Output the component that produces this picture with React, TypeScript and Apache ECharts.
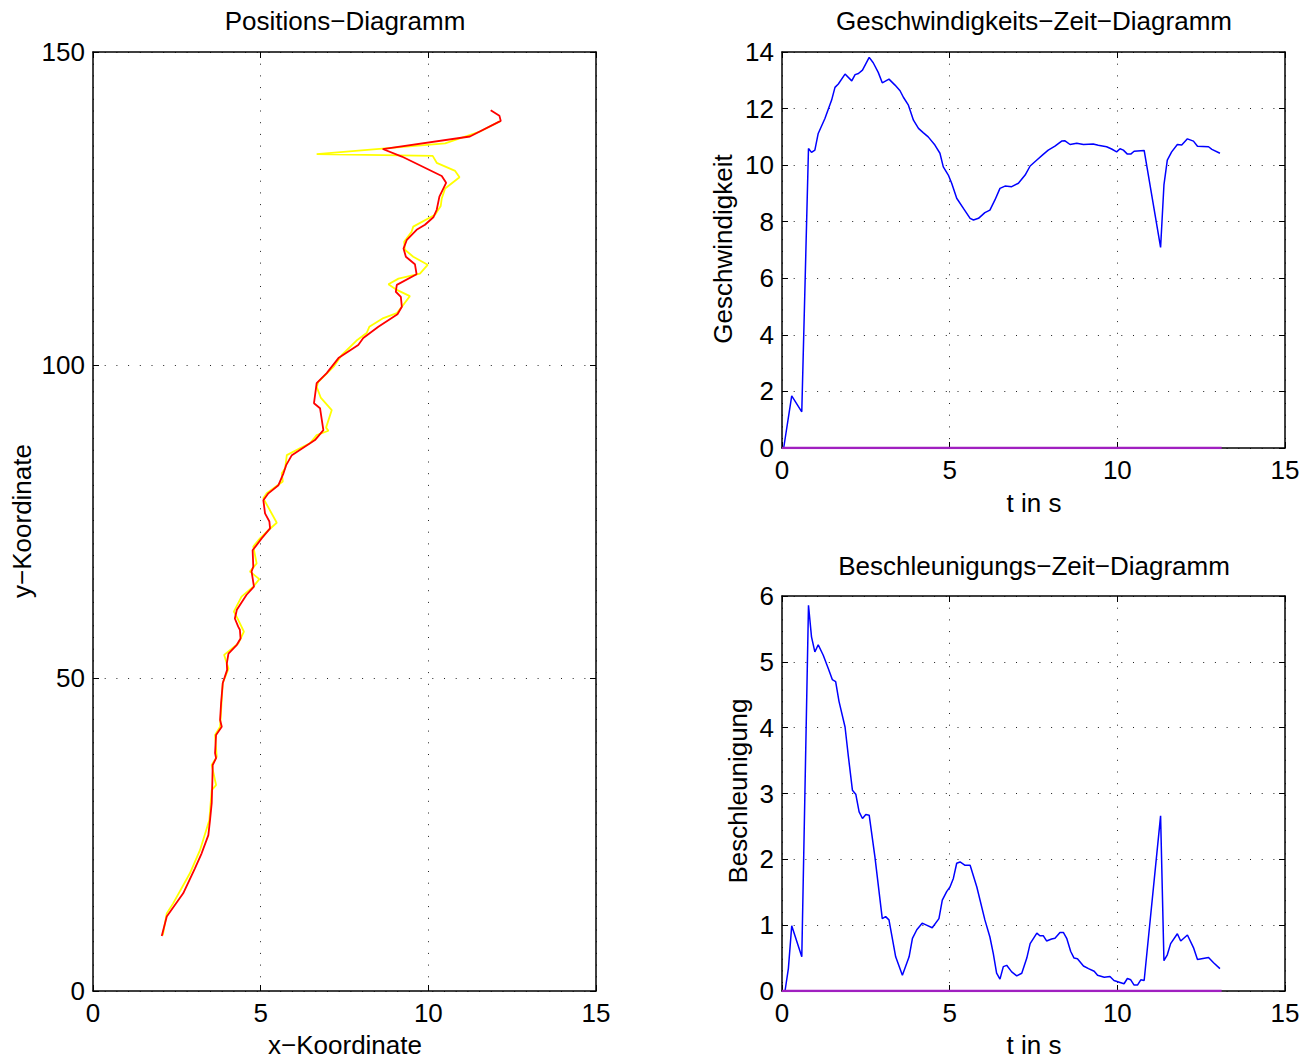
import React, { useEffect, useRef } from "react";
import * as echarts from "echarts";

// ---- Position diagram (x, y) ----
const redX = [2.05, 2.2, 2.69, 3.04, 3.24, 3.44, 3.49, 3.54, 3.56, 3.57, 3.67, 3.64, 3.67, 3.84, 3.79, 3.82, 3.87, 4.0, 3.99, 4.04, 4.29, 4.4, 4.38, 4.33, 4.23, 4.29, 4.58, 4.8, 4.73, 4.78, 4.76, 5.03, 5.28, 5.26, 5.13, 5.08, 5.23, 5.53, 5.68, 5.76, 5.93, 6.62, 6.87, 6.77, 6.59, 6.67, 6.97, 7.32, 7.91, 8.06, 8.51, 9.08, 9.21, 9.18, 9.03, 9.06, 9.65, 9.6, 9.33, 9.26, 9.36, 9.65, 9.9, 10.15, 10.25, 10.33, 10.53, 10.4, 9.21, 8.64, 11.24, 12.16, 12.12, 11.86];
const redY = [8.8, 11.9, 15.6, 19.6, 22, 24.9, 27.3, 30, 33.7, 36.1, 37.2, 38, 40.9, 42.2, 43.3, 46, 49.2, 51.3, 52.3, 53.9, 55.3, 56.3, 57.7, 58.2, 59.5, 60.9, 63.3, 64.6, 67, 67.8, 70.4, 72.3, 73.9, 75, 76.3, 78.4, 79.5, 80.8, 82.7, 84, 85.6, 88, 89.6, 93.1, 93.9, 97.1, 98.7, 101.1, 103.2, 104.3, 106.1, 108.1, 109.3, 110.9, 111.7, 112.8, 114.5, 116.1, 117.3, 118.6, 120, 121.6, 122.4, 123.6, 124.8, 126.9, 129.1, 130.2, 133.3, 134.5, 136.5, 139, 139.8, 140.7];
const yellowX = [2.08, 2.2, 2.39, 2.89, 3.19, 3.47, 3.54, 3.67, 3.54, 3.69, 3.64, 3.79, 3.87, 4.04, 3.91, 4.33, 4.5, 4.33, 4.2, 4.43, 4.78, 4.96, 4.68, 4.88, 4.78, 4.98, 5.23, 5.48, 5.08, 5.18, 5.66, 5.63, 5.73, 5.78, 6.17, 6.47, 6.67, 7.02, 6.95, 7.12, 6.79, 6.67, 6.72, 7.17, 7.42, 7.86, 8.16, 8.24, 8.66, 9.06, 9.21, 9.45, 9.06, 8.81, 9.11, 9.75, 9.98, 9.55, 9.3, 9.28, 9.5, 9.55, 10.2, 10.37, 10.4, 10.5, 10.93, 10.8, 10.25, 10.13, 6.67, 10.5, 11.54, 12.16];
const yellowY = [8.9, 12.4, 14, 18.8, 22.5, 27.3, 32.1, 32.9, 36.1, 37.4, 40.9, 42.2, 49.2, 51.5, 53.7, 55.5, 57.4, 59.3, 60.6, 63, 64.6, 65.8, 67, 68.3, 71, 72.3, 73.6, 74.8, 78.7, 79.5, 81.4, 82.7, 83.5, 85.6, 86.7, 87.5, 88.8, 89.5, 90, 92.8, 94.8, 96.5, 97.3, 99.7, 101.6, 103.9, 105.1, 106.1, 107.5, 108.3, 109.3, 111, 112, 112.9, 113.8, 114.6, 116, 117.3, 118.4, 119.7, 121.3, 122.1, 124, 125.4, 126.6, 128.2, 130, 131, 132.3, 133.4, 133.7, 135.4, 137.3, 139];

// ---- Velocity over time ----
const velT = [0.05, 0.29, 0.59, 0.79, 0.88, 0.98, 1.08, 1.28, 1.48, 1.58, 1.68, 1.88, 2.08, 2.18, 2.28, 2.4, 2.6, 2.72, 2.87, 2.99, 3.19, 3.37, 3.52, 3.62, 3.77, 3.92, 4.07, 4.21, 4.36, 4.56, 4.71, 4.81, 4.96, 5.06, 5.21, 5.41, 5.61, 5.71, 5.86, 6.05, 6.2, 6.35, 6.5, 6.65, 6.85, 7.05, 7.25, 7.4, 7.6, 7.79, 7.94, 8.14, 8.34, 8.44, 8.59, 8.79, 8.99, 9.28, 9.43, 9.68, 9.83, 9.98, 10.08, 10.18, 10.3, 10.4, 10.5, 10.8, 11.29, 11.39, 11.49, 11.62, 11.79, 11.92, 12.09, 12.27, 12.39, 12.72, 12.82, 13.06];
const velV = [0, 1.84, 1.28, 10.59, 10.45, 10.53, 11.12, 11.65, 12.3, 12.75, 12.87, 13.22, 12.98, 13.2, 13.24, 13.36, 13.81, 13.62, 13.28, 12.91, 13.04, 12.83, 12.63, 12.4, 12.12, 11.59, 11.3, 11.15, 11.0, 10.71, 10.42, 9.94, 9.65, 9.36, 8.83, 8.47, 8.12, 8.06, 8.12, 8.32, 8.41, 8.77, 9.18, 9.26, 9.24, 9.36, 9.65, 9.97, 10.18, 10.38, 10.53, 10.67, 10.85, 10.86, 10.73, 10.77, 10.73, 10.75, 10.7, 10.65, 10.57, 10.47, 10.58, 10.53, 10.39, 10.39, 10.49, 10.52, 7.09, 9.3, 10.18, 10.47, 10.73, 10.71, 10.93, 10.85, 10.67, 10.65, 10.56, 10.42];

// ---- Acceleration over time ----
const accT = [0.09, 0.19, 0.29, 0.59, 0.79, 0.88, 0.98, 1.08, 1.23, 1.38, 1.5, 1.6, 1.7, 1.88, 1.98, 2.1, 2.2, 2.3, 2.4, 2.5, 2.6, 2.77, 2.99, 3.09, 3.19, 3.39, 3.59, 3.79, 3.89, 4.02, 4.18, 4.31, 4.48, 4.68, 4.78, 4.91, 5.01, 5.11, 5.21, 5.31, 5.46, 5.61, 5.81, 6.05, 6.2, 6.3, 6.4, 6.5, 6.6, 6.7, 6.85, 7.0, 7.15, 7.3, 7.4, 7.6, 7.69, 7.79, 7.89, 8.04, 8.14, 8.29, 8.39, 8.49, 8.61, 8.71, 8.81, 8.99, 9.14, 9.31, 9.41, 9.61, 9.78, 9.9, 10.08, 10.2, 10.3, 10.4, 10.5, 10.6, 10.7, 10.8, 11.29, 11.39, 11.49, 11.59, 11.79, 11.89, 12.09, 12.27, 12.39, 12.72, 12.87, 13.06];
const accA = [0, 0.34, 0.99, 0.52, 5.86, 5.38, 5.15, 5.26, 5.1, 4.9, 4.73, 4.7, 4.4, 4.01, 3.56, 3.05, 2.99, 2.72, 2.62, 2.68, 2.67, 2.04, 1.1, 1.13, 1.08, 0.52, 0.24, 0.52, 0.8, 0.93, 1.03, 1.0, 0.96, 1.1, 1.38, 1.51, 1.58, 1.71, 1.94, 1.96, 1.91, 1.91, 1.58, 1.08, 0.82, 0.57, 0.27, 0.18, 0.37, 0.39, 0.29, 0.23, 0.27, 0.5, 0.72, 0.88, 0.84, 0.84, 0.76, 0.79, 0.8, 0.89, 0.89, 0.8, 0.6, 0.5, 0.49, 0.38, 0.34, 0.3, 0.24, 0.21, 0.22, 0.16, 0.13, 0.11, 0.19, 0.17, 0.09, 0.09, 0.17, 0.16, 2.66, 0.46, 0.55, 0.72, 0.87, 0.76, 0.85, 0.66, 0.48, 0.51, 0.43, 0.34];

// zero reference line (time span)
const zeroT = [0, 13.11];
const zeroV = [0, 0];

// axis ranges / ticks
const posXRange = [0, 15, 5];
const posYRange = [0, 150, 50];
const tRange = [0, 15, 5];
const velRange = [0, 14, 2];
const accRange = [0, 6, 1];

const FONT = "'Liberation Sans', Arial, Helvetica, sans-serif";
const FS = 26;

function zip(a: number[], b: number[]) {
  return a.map((v, i) => [v, b[i]]);
}

function axisPair(kind: "x" | "y", gridIndex: number, r: number[]) {
  const common = {
    type: "value",
    gridIndex,
    min: r[0],
    max: r[1],
    interval: r[2],
    axisLine: { show: true, onZero: false, lineStyle: { color: "#000", width: 1.5 } },
    axisTick: { show: true, inside: true, length: 6, lineStyle: { color: "#000", width: 1 } },
  };
  const main = {
    ...common,
    position: kind === "x" ? "bottom" : "left",
    axisLabel: {
      show: true,
      color: "#000",
      fontSize: FS,
      fontFamily: FONT,
      margin: kind === "x" ? 9 : 8,
    },
    splitLine: {
      show: true,
      lineStyle: { color: "#222", width: 1, type: [1, 10.7] },
    },
  };
  const opp = {
    ...common,
    position: kind === "x" ? "top" : "right",
    axisLabel: { show: false },
    splitLine: { show: false },
  };
  return [main, opp];
}

function txt(text: string, x: number, y: number, rotate = false) {
  return {
    type: "text",
    x,
    y,
    rotation: rotate ? Math.PI / 2 : 0,
    style: {
      text,
      fill: "#000",
      fontSize: FS,
      fontFamily: FONT,
      textAlign: "center",
      textVerticalAlign: "middle",
    },
  };
}

export default function App() {
  const ref = useRef<HTMLDivElement>(null);
  useEffect(() => {
    document.body.style.margin = "0";
    if (!ref.current) return;
    const chart = echarts.init(ref.current, undefined, { renderer: "svg" });
    const xAxes = [
      ...axisPair("x", 0, posXRange),
      ...axisPair("x", 1, tRange),
      ...axisPair("x", 2, tRange),
    ];
    const yAxes = [
      ...axisPair("y", 0, posYRange),
      ...axisPair("y", 1, velRange),
      ...axisPair("y", 2, accRange),
    ];
    const line = (name: string, xi: number, yi: number, data: number[][], color: string, width: number) => ({
      name,
      type: "line",
      xAxisIndex: xi,
      yAxisIndex: yi,
      data,
      showSymbol: false,
      symbol: "none",
      lineStyle: { color, width },
      z: 3,
    });
    chart.setOption({
      animation: false,
      backgroundColor: "#fff",
      grid: [
        { left: 93, top: 52, width: 503, height: 939 },
        { left: 782, top: 52, width: 503, height: 396 },
        { left: 782, top: 596, width: 503, height: 395 },
      ],
      xAxis: xAxes,
      yAxis: yAxes,
      series: [
        line("gelb", 0, 0, zip(yellowX, yellowY), "#ffff00", 1.8),
        line("rot", 0, 0, zip(redX, redY), "#ff0000", 1.8),
        line("v", 2, 2, zip(velT, velV), "#0000ff", 1.5),
        line("v0", 2, 2, zip(zeroT, zeroV), "#a020c0", 2.5),
        line("a", 4, 4, zip(accT, accA), "#0000ff", 1.5),
        line("a0", 4, 4, zip(zeroT, zeroV), "#a020c0", 2.5),
      ],
      graphic: [
        txt("Positions\u2212Diagramm", 345, 21),
        txt("x\u2212Koordinate", 345, 1045),
        txt("y\u2212Koordinate", 22, 521, true),
        txt("Geschwindigkeits\u2212Zeit\u2212Diagramm", 1034, 21),
        txt("t in s", 1034, 503),
        txt("Geschwindigkeit", 723, 249, true),
        txt("Beschleunigungs\u2212Zeit\u2212Diagramm", 1034, 566),
        txt("t in s", 1034, 1045),
        txt("Beschleunigung", 738, 791, true),
      ],
    });
    return () => chart.dispose();
  }, []);
  return <div ref={ref} style={{ width: 1316, height: 1063 }} />;
}
